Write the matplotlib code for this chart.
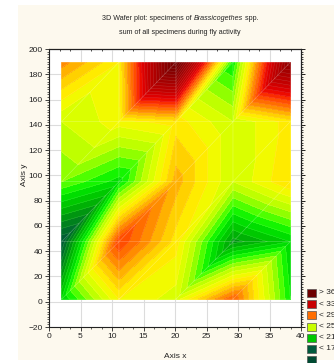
import numpy as np
import matplotlib
matplotlib.use("Agg")
import matplotlib.pyplot as plt
import matplotlib.tri as mtri
from matplotlib.colors import LinearSegmentedColormap, Normalize
from matplotlib.patches import Rectangle
from matplotlib.ticker import MultipleLocator

FONT = ['Liberation Sans Narrow', 'Liberation Sans', 'DejaVu Sans']
plt.rcParams['font.family'] = FONT

# ---- data (grid nodes of the wafer plot) ----
x_nodes = [2.0, 11.1, 20.15, 29.2, 38.3]
y_nodes = [2.0, 47.5, 95.0, 142.5, 189.5]
# rows from bottom (y=2) to top (y=189.5); columns left->right
z_rows = [
    [19.0, 26.0, 24.5, 31.0, 20.0],
    [13.0, 32.0, 26.5, 16.5, 19.0],
    [22.0, 19.5, 28.5, 24.0, 27.0],
    [24.0, 25.5, 26.5, 24.0, 26.5],
    [29.5, 26.0, 46.0, 20.0, 42.0],
]
legend_labels = ['> 36', '< 33', '< 29', '< 25', '< 21', '< 17', '']
legend_colors = ['#6e0000', '#c80000', '#ff6e00', '#c8ff00', '#00c800', '#005a3c', '#004a32']
title1_parts = [('3D Wafer plot: specimens of ', 'normal'), ('Brassicogethes', 'italic'), (' spp.', 'normal')]
title2 = 'sum of all specimens during fly activity'
xlabel = 'Axis x'
ylabel = 'Axis y'
levels = np.arange(11, 48, 1.0)

# colormap anchors (value, rgb)
cm_vals = [12, 14, 16, 18, 20, 21, 22, 23, 24, 25, 26, 27, 28, 29, 30, 31, 32, 33, 34, 36, 40, 44, 47]
cm_rgb = [(0, 80, 55), (0, 100, 50), (0, 140, 20), (0, 190, 0), (0, 235, 0), (40, 255, 0),
          (120, 255, 0), (175, 255, 0), (205, 255, 0), (232, 255, 0), (255, 245, 0),
          (255, 226, 0), (255, 192, 0), (255, 160, 0), (255, 125, 0), (255, 95, 0),
          (255, 60, 0), (245, 25, 0), (230, 0, 0), (200, 0, 0), (160, 0, 0), (125, 0, 0), (105, 0, 0)]

vmin, vmax = cm_vals[0], cm_vals[-1]
cmap = LinearSegmentedColormap.from_list(
    'wafer', [((v - vmin) / (vmax - vmin), tuple(c / 255 for c in rgb)) for v, rgb in zip(cm_vals, cm_rgb)])

# ---- triangulation: each cell split along lower-left -> upper-right diagonal ----
X, Y = np.meshgrid(x_nodes, y_nodes)
Z = np.array(z_rows)
nx, ny = len(x_nodes), len(y_nodes)
tris = []
for j in range(ny - 1):
    for i in range(nx - 1):
        a = j * nx + i
        b = a + 1
        c = a + nx
        d = c + 1
        tris.append([a, b, d])
        tris.append([a, d, c])
tri = mtri.Triangulation(X.ravel(), Y.ravel(), tris)

fig = plt.figure(figsize=(3.34, 3.63), dpi=100, facecolor='white')
fig.patches.append(Rectangle((18 / 334, 3 / 363), 1, (363 - 8) / 363, transform=fig.transFigure,
                             facecolor='#fdf9ee', edgecolor='none', zorder=-10))

ax = fig.add_axes([49 / 334, 1 - 327 / 363, (301 - 49) / 334, (327 - 49) / 363])
ax.set_facecolor('white')
ax.set_xlim(0, 40)
ax.set_ylim(-20, 200)
ax.xaxis.set_major_locator(MultipleLocator(5))
ax.yaxis.set_major_locator(MultipleLocator(20))
ax.xaxis.set_minor_locator(MultipleLocator(5 / 3))
ax.yaxis.set_minor_locator(MultipleLocator(2))
ax.grid(True, which='major', color='#dcdcdc', lw=0.8, zorder=0)
ax.set_axisbelow(True)

norm = Normalize(vmin, vmax)
ax.tricontourf(tri, Z.ravel(), levels=levels, cmap=cmap, norm=norm, zorder=2)
ax.tricontour(tri, Z.ravel(), levels=levels, colors='white', linewidths=0.3, alpha=0.22, zorder=3)
ax.triplot(tri, color='white', lw=0.45, alpha=0.3, zorder=4)

ax.tick_params(axis='both', which='major', direction='out', length=3, width=0.6,
               labelsize=6, colors='#222222', pad=1.5)
ax.tick_params(axis='both', which='minor', direction='out', length=1.3, width=0.5, colors='#222222')
for s in ax.spines.values():
    s.set_linewidth(0.8)
    s.set_color('#222222')

sx = ax.secondary_xaxis('top')
sx.xaxis.set_major_locator(MultipleLocator(5))
sx.xaxis.set_minor_locator(MultipleLocator(5 / 3))
sx.tick_params(which='major', direction='in', length=3, width=0.6, labeltop=False)
sx.tick_params(which='minor', direction='in', length=1.5, width=0.5)
sy = ax.secondary_yaxis('right')
sy.yaxis.set_major_locator(MultipleLocator(20))
sy.yaxis.set_minor_locator(MultipleLocator(2))
sy.tick_params(which='major', direction='out', length=3, width=0.6, labelright=False)
sy.tick_params(which='minor', direction='out', length=1.3, width=0.5)

fig.text(175 / 334, 1 - 357 / 363, xlabel, ha='center', va='center', fontsize=6, color='#222222')
fig.text(25 / 334, 1 - 175 / 363, ylabel, ha='center', va='center', rotation=90, fontsize=6, color='#222222')

# title line 1 with an italic word: lay out pieces side by side
TFS = 5.1
renderer = fig.canvas.get_renderer()
pieces = []
for txt, style in title1_parts:
    t = fig.text(0, 1 - 19 / 363, txt, ha='left', va='center', fontsize=TFS, style=style, color='#222222')
    pieces.append(t)
widths = [p.get_window_extent(renderer).width for p in pieces]
total = sum(widths)
x0 = 180 - total / 2
for p, w in zip(pieces, widths):
    p.set_x(x0 / 334)
    x0 += w
fig.text(180 / 334, 1 - 33 / 363, title2, ha='center', va='center', fontsize=TFS, color='#222222')

# legend (manually placed, runs off the right edge like the reference)
for k, (lab, col) in enumerate(zip(legend_labels, legend_colors)):
    top = 289 + k * 11.2
    fig.patches.append(Rectangle((307 / 334, 1 - (top + 8) / 363), 9 / 334, 8 / 363,
                                 transform=fig.transFigure, facecolor=col,
                                 edgecolor='#555555', lw=0.5, zorder=5))
    if lab:
        fig.text(319 / 334, 1 - (top + 4) / 363, lab, ha='left', va='center', fontsize=6, color='#222222')

fig.savefig('out.png', dpi=100, facecolor='white')
